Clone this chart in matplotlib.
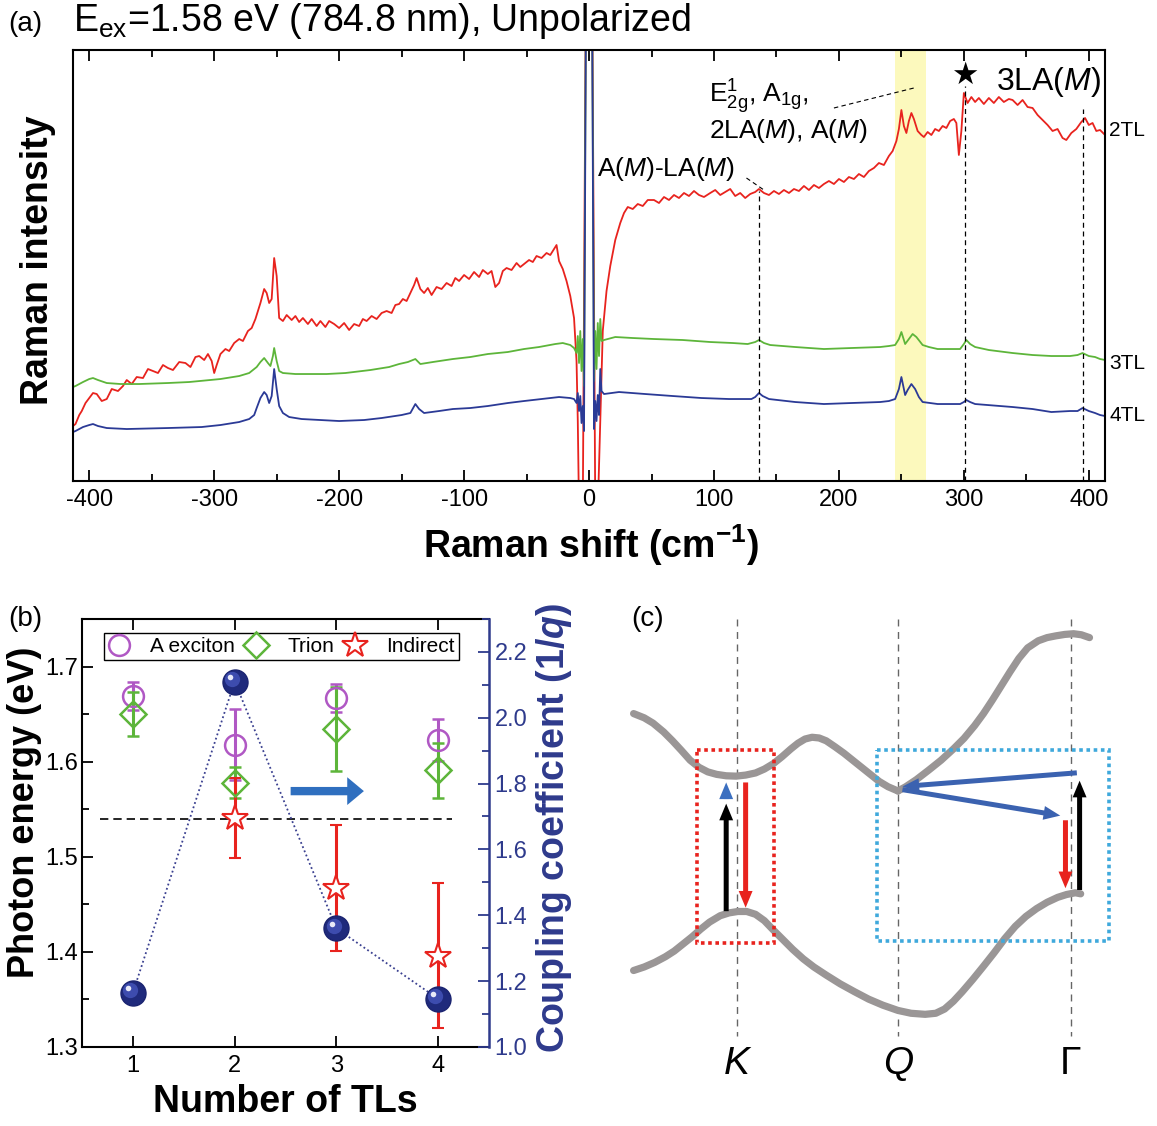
import matplotlib
matplotlib.use("Agg")
import matplotlib.pyplot as plt
from matplotlib.patches import Rectangle, FancyArrowPatch
from matplotlib.ticker import MultipleLocator
import matplotlib.transforms as mtransforms
import numpy as np

plt.rcParams['font.family'] = ['Liberation Sans', 'DejaVu Sans']
plt.rcParams['mathtext.fontset'] = 'custom'
plt.rcParams['mathtext.rm'] = 'Liberation Sans'
plt.rcParams['mathtext.it'] = 'Liberation Sans:italic'
plt.rcParams['mathtext.bf'] = 'Liberation Sans:bold'
plt.rcParams['mathtext.bfit'] = 'Liberation Sans:italic:bold'
plt.rcParams['axes.unicode_minus'] = False

# ---------------- (a) Raman spectra (shift cm-1, intensity a.u.) ----------------
red_2tl = [(-413, 55), (-411, 57), (-408, 66), (-406, 70), (-403, 78), (-400, 83), (-397, 88),
           (-394, 87), (-390, 80), (-386, 82), (-382, 92), (-377, 90), (-373, 95), (-370, 101),
           (-366, 97), (-362, 104), (-357, 103), (-353, 112), (-349, 110), (-345, 108), (-341, 116),
           (-337, 113), (-333, 111), (-328, 119), (-323, 118), (-319, 114), (-315, 124), (-312, 125),
           (-308, 121), (-305, 127), (-302, 120), (-300, 108), (-298, 116), (-295, 127), (-291, 132),
           (-288, 130), (-284, 138), (-280, 142), (-277, 140), (-273, 150), (-270, 153), (-267, 162),
           (-263, 178), (-260, 192), (-258, 188), (-256, 178), (-254, 182), (-252, 223), (-250, 205),
           (-248, 163), (-245, 160), (-242, 166), (-238, 161), (-235, 165), (-232, 159), (-229, 163),
           (-225, 157), (-222, 162), (-218, 155), (-215, 160), (-211, 154), (-208, 160), (-204, 157),
           (-200, 153), (-196, 158), (-192, 151), (-188, 157), (-184, 155), (-181, 162), (-178, 160),
           (-174, 165), (-170, 162), (-166, 168), (-162, 170), (-158, 168), (-155, 176), (-152, 177),
           (-149, 182), (-146, 180), (-143, 188), (-140, 196), (-138, 203), (-135, 192), (-132, 188),
           (-129, 193), (-126, 186), (-122, 194), (-118, 192), (-114, 198), (-110, 195), (-107, 203),
           (-104, 200), (-100, 206), (-96, 202), (-92, 209), (-88, 204), (-85, 211), (-81, 207),
           (-78, 210), (-75, 194), (-72, 198), (-69, 210), (-66, 213), (-62, 211), (-58, 218),
           (-55, 214), (-52, 217), (-48, 221), (-45, 219), (-42, 225), (-38, 223), (-34, 228),
           (-31, 226), (-28, 232), (-26, 236), (-24, 220), (-21, 212), (-18, 200), (-15, 185),
           (-12, 163), (-10, 120), (-9, 60), (-8, -30), (-5, -30), (-2, 600), (2, 600), (5, -30),
           (7, -30), (9, 60), (11, 150), (14, 190), (17, 215), (21, 241), (25, 258), (28, 268),
           (31, 274), (35, 272), (39, 277), (43, 275), (47, 281), (52, 281), (56, 278), (60, 284),
           (64, 281), (68, 286), (72, 283), (76, 288), (80, 285), (84, 290), (88, 286), (92, 284),
           (97, 288), (101, 291), (105, 286), (109, 289), (113, 292), (117, 285), (121, 288),
           (125, 283), (129, 287), (133, 289), (136, 292), (140, 288), (144, 286), (148, 290),
           (152, 287), (156, 291), (160, 288), (164, 292), (168, 290), (172, 295), (176, 291),
           (180, 296), (184, 293), (188, 297), (192, 300), (196, 297), (200, 302), (204, 299),
           (208, 304), (212, 302), (216, 307), (220, 304), (224, 310), (228, 313), (232, 318),
           (236, 316), (240, 325), (243, 330), (246, 340), (248, 352), (250, 371), (252, 355),
           (254, 348), (256, 360), (258, 368), (260, 362), (263, 350), (266, 346), (268, 344),
           (271, 349), (274, 346), (277, 352), (280, 350), (283, 355), (286, 353), (289, 360),
           (292, 362), (294, 358), (296, 326), (298, 350), (300, 388), (303, 378), (306, 384),
           (309, 379), (312, 383), (316, 377), (320, 383), (324, 378), (328, 384), (332, 379),
           (336, 382), (339, 381), (343, 376), (347, 381), (351, 374), (355, 373), (359, 366),
           (363, 361), (367, 356), (371, 350), (375, 352), (379, 343), (382, 341), (386, 348),
           (390, 352), (394, 359), (397, 363), (400, 356), (403, 358), (406, 350), (409, 351),
           (413, 346)]

green_3tl = [(-413, 94), (-411, 95), (-405, 99), (-400, 102), (-397, 103), (-393, 101), (-386, 98),
             (-375, 97), (-360, 97), (-337, 98), (-320, 99), (-295, 102), (-280, 105), (-272, 108),
             (-266, 114), (-263, 119), (-260, 123), (-257, 118), (-255, 115), (-253, 125), (-252, 133),
             (-250, 120), (-248, 110), (-245, 108), (-235, 107), (-223, 107), (-210, 107), (-195, 108),
             (-175, 111), (-160, 114), (-152, 117), (-145, 119), (-139, 122), (-135, 117), (-125, 119),
             (-109, 122), (-95, 124), (-81, 127), (-65, 129), (-52, 132), (-40, 134), (-27, 137),
             (-21, 138), (-15, 136), (-12, 133), (-10, 128), (-9, 145), (-8, 118), (-7, 150), (-6, 110),
             (-5, 142), (-4, 95), (-2, 600), (2, 600), (4, 100), (5, 150), (6, 112), (7, 158), (8, 125),
             (9, 162), (10, 140), (12, 141), (21, 144), (35, 143), (52, 142), (75, 141), (97, 139),
             (115, 138), (127, 137), (133, 139), (136, 141), (140, 138), (145, 136), (165, 134),
             (188, 132), (210, 133), (233, 134), (240, 135), (245, 136), (248, 142), (250, 149),
             (252, 141), (253, 137), (256, 142), (259, 147), (262, 144), (267, 136), (272, 134),
             (279, 132), (290, 132), (297, 132), (300, 137), (302, 141), (305, 137), (309, 134),
             (320, 131), (339, 128), (355, 126), (370, 125), (385, 125), (391, 126), (395, 128),
             (400, 125), (405, 124), (409, 122), (413, 121)]

blue_4tl = [(-413, 49), (-411, 50), (-405, 54), (-400, 56), (-397, 57), (-393, 55), (-386, 53),
            (-370, 52), (-337, 53), (-310, 54), (-295, 56), (-280, 59), (-272, 62), (-268, 66),
            (-266, 73), (-263, 83), (-260, 89), (-258, 86), (-256, 78), (-254, 85), (-252, 112),
            (-250, 92), (-248, 75), (-245, 68), (-240, 64), (-230, 62), (-200, 60), (-180, 61),
            (-166, 63), (-150, 66), (-143, 68), (-139, 77), (-136, 72), (-132, 68), (-120, 70),
            (-109, 72), (-95, 73), (-81, 75), (-65, 78), (-52, 80), (-38, 82), (-24, 84), (-15, 83),
            (-12, 82), (-10, 78), (-9, 88), (-8, 70), (-7, 85), (-6, 58), (-5, 75), (-4, 50),
            (-2, 600), (2, 600), (4, 52), (5, 80), (6, 60), (7, 86), (8, 66), (9, 112), (10, 90),
            (12, 87), (24, 89), (45, 87), (67, 85), (90, 83), (112, 82), (130, 82), (133, 84),
            (136, 88), (139, 85), (144, 82), (165, 79), (188, 77), (210, 78), (233, 79), (240, 80),
            (245, 82), (248, 92), (250, 104), (252, 92), (253, 86), (255, 91), (258, 97), (261, 92),
            (264, 84), (267, 79), (279, 77), (297, 77), (300, 79), (302, 81), (305, 79), (309, 77),
            (339, 74), (355, 72), (370, 69), (385, 70), (391, 70), (395, 73), (400, 70), (405, 68),
            (409, 66), (413, 65)]

mode_lines = [136, 301, 395]          # dashed marker positions
mode_tops = [290, 395, 372]
band_range = (245, 270)               # highlighted yellow band

# ---------------- (b) layer dependence ----------------
n_tl = [1, 2, 3, 4]
a_exc = [1.669, 1.618, 1.667, 1.623]
a_exc_err = [0.015, 0.037, 0.015, 0.022]
trion = [1.650, 1.578, 1.634, 1.591]
trion_err = [0.023, 0.016, 0.044, 0.029]
n_ind = [2, 3, 4]
indirect = [1.541, 1.467, 1.396]
indirect_err = [0.042, 0.066, 0.076]
coupling = [1.165, 2.11, 1.36, 1.146]
excitation = 1.54

# ---------------- (c) band schematic (drawing units) ----------------
cb_left = [(95, 378), (125, 390), (150, 405), (180, 430), (205, 455), (230, 482), (255, 510),
           (280, 530), (305, 543), (330, 550), (357, 554), (385, 555), (412, 552), (440, 546),
           (465, 535), (490, 520), (515, 500), (540, 478), (560, 462), (580, 450), (600, 445),
           (620, 447), (640, 455), (665, 472), (690, 490), (715, 510), (740, 530), (765, 550),
           (790, 570), (815, 585), (843, 597)]
cb_right = [(843, 597), (865, 585), (895, 565), (930, 538), (965, 510), (1000, 478), (1030, 448),
            (1060, 412), (1085, 378), (1110, 340), (1135, 300), (1160, 260), (1185, 222),
            (1210, 192), (1240, 172), (1265, 163), (1290, 158), (1315, 154), (1340, 152),
            (1362, 155), (1385, 163)]
vb = [(95, 1105), (125, 1095), (155, 1082), (185, 1066), (210, 1050), (235, 1030), (260, 1010),
      (285, 988), (310, 968), (340, 950), (365, 942), (390, 938), (415, 938), (440, 946),
      (465, 964), (490, 990), (515, 1015), (545, 1045), (575, 1072), (605, 1095), (640, 1118),
      (680, 1143), (720, 1165), (760, 1186), (800, 1203), (843, 1218), (880, 1226), (920, 1229),
      (950, 1226), (975, 1214), (1000, 1192), (1025, 1165), (1055, 1130), (1085, 1093),
      (1115, 1055), (1145, 1015), (1175, 980), (1205, 952), (1235, 930), (1265, 912),
      (1295, 898), (1320, 890), (1345, 885), (1360, 888)]
k_points = [387, 843, 1332]
k_labels = ['K', 'Q', '\u0393']
k_italic = [True, True, False]
red_box = (275, 482, 218, 546)
cyan_box = (783, 482, 657, 540)
# (tail, head, colour)
transitions = [((357, 945), (357, 625), 'k'),
               ((357, 628), (357, 565), '#3b6fc0'),
               ((412, 565), (412, 935), '#e8231e'),
               ((1357, 545), (848, 585), '#3b62b0'),
               ((848, 592), (1310, 668), '#3b62b0'),
               ((1317, 672), (1317, 880), '#e8231e'),
               ((1357, 885), (1357, 560), 'k')]

RED = '#e8231e'
GREEN = '#5db53a'
BLUE = '#2b3a96'
PURPLE = '#b058c4'
NAVY = '#2e3a8c'

fig = plt.figure(figsize=(11.57, 11.26), dpi=100)

# ======================= panel (a) =======================
ax = fig.add_axes([0.0631, 0.5728, 0.892, 0.3828])
for data, col in [(red_2tl, RED), (green_3tl, GREEN), (blue_4tl, BLUE)]:
    xs, ys = zip(*data)
    ax.plot(xs, ys, color=col, lw=1.3)
ax.axvspan(*band_range, color='#fcf9bd', zorder=0, lw=0)
ax.vlines(mode_lines, 0, mode_tops, colors='k', linestyles=(0, (4, 3)), lw=0.9)
ax.set_xlim(-413, 413)
ax.set_ylim(0, 431)
ax.set_yticks([])
ax.xaxis.set_major_locator(MultipleLocator(100))
ax.xaxis.set_minor_locator(MultipleLocator(50))
ax.tick_params(axis='x', which='both', direction='in', top=True, labelsize=17, width=1.3)
ax.tick_params(axis='x', which='major', length=8, pad=6)
ax.tick_params(axis='x', which='minor', length=5)
for s in ax.spines.values():
    s.set_linewidth(1.5)

ax.text(301, 406, '\u2605', ha='center', va='center', fontsize=22, family='DejaVu Sans')
ax.text(326, 391, r'3LA($\it{M}$)', fontsize=23, va='baseline')
ax.text(96, 378, r'E$^{\mathregular{1}}_{\mathregular{2g}}$, A$_{\mathregular{1g}}$,',
        fontsize=19, va='baseline')
ax.text(96, 343, r'2LA($\it{M}$), A($\it{M}$)', fontsize=19, va='baseline')
ax.text(6, 305, r'A($\it{M}$)-LA($\it{M}$)', fontsize=19, va='baseline')
ax.plot([196, 260], [373, 393], color='k', ls=(0, (4, 3)), lw=0.8)
ax.plot([126, 140], [303, 291], color='k', ls=(0, (4, 3)), lw=0.8)

trans = mtransforms.blended_transform_factory(ax.transAxes, ax.transData)
for lab, yv in [('2TL', 351), ('3TL', 118), ('4TL', 66)]:
    ax.text(1.004, yv, lab, transform=trans, fontsize=15, va='center', ha='left')

fig.text(0.0328, 0.769, 'Raman intensity', rotation=90, ha='center', va='center',
         fontsize=27, fontweight='bold')
fig.text(0.511, 0.516, r'Raman shift (cm$^{\mathbf{-1}}$)', ha='center', va='center',
         fontsize=27, fontweight='bold')
fig.text(8 / 1157, 1 - 31 / 1126, '(a)', fontsize=20, va='baseline')
fig.text(73 / 1157, 1 - 31 / 1126, r'E$_{\mathregular{ex}}$=1.58 eV (784.8 nm), Unpolarized',
         fontsize=27, va='baseline')

# ======================= panel (b) =======================
axb = fig.add_axes([0.0709, 0.0702, 0.3518, 0.3801])
axb.hlines(excitation, 0.68, 4.14, colors='k', linestyles=(0, (5, 3)), lw=1.2)
eb = dict(capsize=4, elinewidth=2.2, capthick=2.2, ms=15, mew=1.8)
axb.errorbar(n_tl, a_exc, yerr=a_exc_err, fmt='o', color=PURPLE, mfc='none', **eb)
axb.errorbar(n_tl, trion, yerr=trion_err, fmt='D', color=GREEN, mfc='none',
             **{**eb, 'ms': 13})
axb.errorbar(n_ind, indirect, yerr=indirect_err, fmt='*', color=RED, mfc='white',
             **{**eb, 'ms': 19, 'mew': 1.5})
axb.annotate('', xy=(3.27, 1.569), xytext=(2.55, 1.569),
             arrowprops=dict(arrowstyle='simple,head_width=1.0,head_length=0.6,tail_width=0.3',
                             mutation_scale=20, color='#2f6fbf', lw=0, shrinkA=0, shrinkB=0))
axb.set_xlim(0.5, 4.5)
axb.set_ylim(1.3, 1.75)
axb.set_xticks(n_tl)
axb.yaxis.set_major_locator(MultipleLocator(0.1))
axb.yaxis.set_minor_locator(MultipleLocator(0.05))
axb.tick_params(which='both', direction='in', top=True, right=False, labelsize=17, width=1.3)
axb.tick_params(which='major', length=8)
axb.tick_params(axis='x', which='major', pad=6)
axb.tick_params(axis='y', which='major', pad=3)
axb.tick_params(which='minor', length=5)
axb.spines['right'].set_visible(False)
for s in ['left', 'top', 'bottom']:
    axb.spines[s].set_linewidth(1.5)

h1 = axb.plot([], [], 'o', color=PURPLE, mfc='none', ms=15, mew=1.8)[0]
h2 = axb.plot([], [], 'D', color=GREEN, mfc='none', ms=13, mew=1.8)[0]
h3 = axb.plot([], [], '*', color=RED, mfc='white', ms=19, mew=1.5)[0]
leg = axb.legend([h1, h2, h3], ['A exciton', 'Trion', 'Indirect'], ncol=3, loc='upper left',
                 bbox_to_anchor=(0.055, 0.968), borderaxespad=0, fontsize=15, fancybox=False,
                 handlelength=1.0, handletextpad=1.0, columnspacing=0.5, borderpad=0.2,
                 framealpha=1)
leg.get_frame().set_edgecolor('k')
leg.get_frame().set_linewidth(1.0)

ax2 = axb.twinx()
ax2.plot(n_tl, coupling, ls=(0, (1, 1.5)), color='#3a4090', lw=1.3, zorder=2)
ax2.plot(n_tl, coupling, 'o', ms=18, color='#1f2a7c', mec='#1a2370', zorder=3)
off1 = mtransforms.offset_copy(ax2.transData, fig=fig, x=-2, y=2, units='points')
off2 = mtransforms.offset_copy(ax2.transData, fig=fig, x=-3.5, y=3.5, units='points')
ax2.plot(n_tl, coupling, 'o', ms=11, color='#3d4cae', mew=0, transform=off1, zorder=4)
ax2.plot(n_tl, coupling, 'o', ms=4, color='#e8eaf8', mew=0, transform=off2, zorder=5)
ax2.set_ylim(1.0, 2.3)
ax2.yaxis.set_major_locator(MultipleLocator(0.2))
ax2.yaxis.set_minor_locator(MultipleLocator(0.1))
ax2.tick_params(which='both', direction='in', colors=NAVY, labelsize=17, width=1.3)
ax2.tick_params(which='major', length=8, pad=4)
ax2.tick_params(which='minor', length=5)
ax2.spines['right'].set_color(NAVY)
ax2.spines['right'].set_linewidth(1.8)
for s in ['left', 'top', 'bottom']:
    ax2.spines[s].set_visible(False)

fig.text(0.021, 0.279, 'Photon energy (eV)', rotation=90, ha='center', va='center',
         fontsize=26, fontweight='bold')
fig.text(0.247, 0.0213, 'Number of TLs', ha='center', va='center', fontsize=27,
         fontweight='bold')
fig.text(0.479, 0.2647, r'Coupling coefficient (1/$\mathbfit{q}$)', rotation=90, ha='center',
         va='center', fontsize=27, fontweight='bold', color=NAVY)
fig.text(8 / 1157, 1 - 626 / 1126, '(b)', fontsize=20, va='baseline')

# ======================= panel (c) =======================
axc = fig.add_axes([0.5186, 0.0, 0.4814, 0.4849])
axc.set_xlim(0, 1576)
axc.set_ylim(1545, 0)
axc.axis('off')
axc.vlines(k_points, 110, 1290, colors='#666666', linestyles=(0, (5, 4)), lw=1.0)
for seg in [cb_left, cb_right, vb]:
    xs, ys = zip(*seg)
    axc.plot(xs, ys, color='#9a9696', lw=5.2, solid_capstyle='round', solid_joinstyle='round',
             zorder=2)
for box, col in [(red_box, RED), (cyan_box, '#3fa9dc')]:
    axc.add_patch(Rectangle(box[:2], box[2], box[3], fill=False, edgecolor=col, lw=2.6,
                            ls=(0, (1, 1)), zorder=3))
for tail, head, col in transitions:
    axc.add_patch(FancyArrowPatch(tail, head,
                                  arrowstyle='simple,head_width=10,head_length=12,tail_width=3.6',
                                  mutation_scale=1, color=col, lw=0, zorder=4))
for xk, lab, it in zip(k_points, k_labels, k_italic):
    axc.text(xk, 1370, lab, ha='center', va='center', fontsize=28,
             fontstyle='italic' if it else 'normal')
axc.text(135, 110, '(c)', ha='center', va='center', fontsize=20)

fig.savefig('out.png', dpi=100)
